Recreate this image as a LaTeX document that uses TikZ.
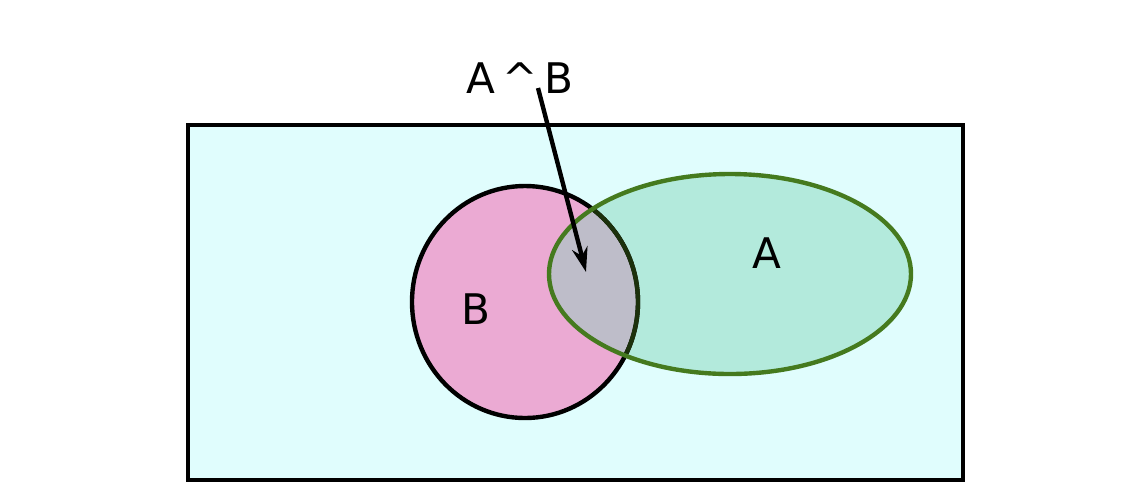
\documentclass[tikz,border=0pt]{standalone}
\usepackage{fontspec}
\setmainfont{DejaVu Sans}
\usetikzlibrary{arrows.meta}
\begin{document}
\begin{tikzpicture}[x=0.02cm,y=-0.02cm,
  lbl/.style={font=\fontsize{24}{28}\selectfont}]
\useasboundingbox (0,0) rectangle (1129,485);
\definecolor{bgc}{HTML}{E0FDFD}
\definecolor{pinkc}{HTML}{EBAAD3}
\definecolor{greenc}{HTML}{B3EADC}
\definecolor{overc}{HTML}{BEBDC9}
\definecolor{edgeA}{HTML}{457A1E}
\node[draw=black,line width=2.5pt,fill=bgc,minimum width=775*0.02cm,minimum height=355*0.02cm,inner sep=0pt] (U) at (575.5,302.5) {};
\fill[pinkc] (525,302) ellipse [x radius=113,y radius=116];
\fill[greenc] (730,274) ellipse [x radius=181,y radius=100];
\begin{scope}
\clip (525,302) ellipse [x radius=113,y radius=116];
\fill[overc] (730,274) ellipse [x radius=181,y radius=100];
\end{scope}
\draw[line width=2.5pt,black] (525,302) ellipse [x radius=113,y radius=116];
\begin{scope}
\clip (730,274) ellipse [x radius=181,y radius=100];
\draw[line width=2.5pt,black!60!edgeA] (525,302) ellipse [x radius=113,y radius=116];
\end{scope}
\draw[line width=2.5pt,edgeA] (730,274) ellipse [x radius=181,y radius=100];
\node[lbl] (A) at (767,253) {A};
\node[lbl] (B) at (476,309) {B};
\node[lbl] (AB) at (520,78) {A\,\^{}\,B};
\coordinate (T) at (586,272);
\draw[line width=2.5pt,-{Stealth[length=14pt,width=9pt]}] (538,88) -- (T);
\end{tikzpicture}
\end{document}
